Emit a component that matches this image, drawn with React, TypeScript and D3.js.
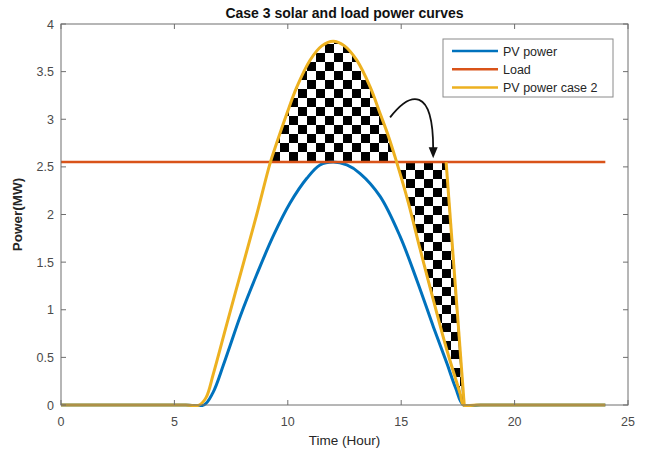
import React from 'react';
import * as d3 from 'd3';

// ---- data ----
const pvTime = [0, 5.5, 6.3, 6.7, 7.16, 7.45, 7.9, 8.63, 9.37, 10.1, 10.84, 11.42, 12.0, 12.6, 13.19, 14.07, 14.95, 15.69, 16.42, 17.01, 17.4, 17.75, 18.5, 24];
const pvPower = [0, 0, 0, 0.13, 0.42, 0.62, 0.93, 1.37, 1.78, 2.12, 2.38, 2.52, 2.55, 2.52, 2.43, 2.19, 1.77, 1.31, 0.82, 0.44, 0.18, 0, 0, 0];

const case2Time = [0, 5.5, 6.1, 6.4, 6.72, 7.31, 8.0, 8.63, 9.22, 9.51, 9.96, 10.4, 10.98, 11.5, 12.0, 12.5, 13.04, 13.63, 14.07, 14.44, 14.8, 15.32, 15.84, 16.42, 17.01, 17.6, 17.75, 18.3, 24];
const case2Power = [0, 0, 0, 0.08, 0.33, 0.85, 1.45, 2.0, 2.54, 2.75, 3.06, 3.34, 3.62, 3.77, 3.82, 3.77, 3.62, 3.34, 3.06, 2.82, 2.55, 2.12, 1.63, 1.10, 0.58, 0.12, 0, 0, 0];

const loadTime = [0, 24];
const loadPower = [2.55, 2.55];

// shifted-energy block (right edge of the lower hatched region)
const shiftEdgeTime = [16.98, 17.78];
const shiftEdgePower = [2.55, 0];

// curved annotation arrow anchor points (data space)
const arrowTime = [14.51, 15.39, 16.41, 16.41];
const arrowPower = [3.02, 3.29, 3.35, 2.69];
const arrowTip = { t: 16.41, v: 2.59 };

const xTicks = [0, 5, 10, 15, 20, 25];
const yTicks = [0, 0.5, 1, 1.5, 2, 2.5, 3, 3.5, 4];
const yTickLabels = ['0', '0.5', '1', '1.5', '2', '2.5', '3', '3.5', '4'];
const seriesNames = ['PV power', 'Load', 'PV power case 2'];
const seriesColors = ['#0072BD', '#D95319', '#EDB120'];

const W = 650;
const H = 453;
const L = 61, R = 628, T = 24, B = 405;
const FONT = 'Arial, "Liberation Sans", Helvetica, sans-serif';

export default function App() {
  const x = d3.scaleLinear().domain([0, 25]).range([L, R]);
  const y = d3.scaleLinear().domain([0, 4]).range([B, T]);

  const pv = pvTime.map((t, i) => ({ t, v: pvPower[i] }));
  const c2 = case2Time.map((t, i) => ({ t, v: case2Power[i] }));
  const load = loadTime.map((t, i) => ({ t, v: loadPower[i] }));
  const edge = shiftEdgeTime.map((t, i) => ({ t, v: shiftEdgePower[i] }));

  const curve = d3.curveCatmullRom.alpha(0.5);
  const line = d3.line<{ t: number; v: number }>()
    .x(d => x(d.t)).y(d => y(Math.max(0, d.v))).curve(curve);
  const straight = d3.line<{ t: number; v: number }>()
    .x(d => x(d.t)).y(d => y(d.v));

  const loadLevel = loadPower[0];
  const upperArea = d3.area<{ t: number; v: number }>()
    .x(d => x(d.t)).y0(y(loadLevel)).y1(d => y(d.v)).curve(curve)(c2) || '';

  const tri = c2.filter(d => d.t >= 14.8 && d.t <= 17.75);
  const triPath = (line(tri) || '') + `L${x(shiftEdgeTime[0])},${y(shiftEdgePower[0])}Z`;

  const ap = arrowTime.map((t, i) => [x(t), y(arrowPower[i])]);
  const arrowD = `M${ap[0][0]},${ap[0][1]} C${ap[1][0]},${ap[1][1]} ${ap[2][0]},${ap[2][1]} ${ap[3][0]},${ap[3][1]}`;
  const tipX = x(arrowTip.t), tipY = y(arrowTip.v);

  const axisColor = '#6e6e6e';
  const tickText = '#4a4a4a';

  return (
    <svg width={W} height={H} style={{ position: 'absolute', left: 0, top: 0, background: '#fff' }}>
      <defs>
        <pattern id="checker" patternUnits="userSpaceOnUse" width={18} height={18} x={325} y={44}>
          <rect width={18} height={18} fill="#fff" />
          <rect x={0} y={0} width={9} height={9} fill="#000" />
          <rect x={9} y={9} width={9} height={9} fill="#000" />
        </pattern>
        <clipPath id="aboveLoad">
          <rect x={L} y={T} width={R - L} height={y(loadLevel) - T} />
        </clipPath>
        <clipPath id="plotClip">
          <rect x={L} y={T} width={R - L} height={B - T + 2} />
        </clipPath>
      </defs>
      <rect x={0} y={0} width={W} height={H} fill="#fff" />

      {/* hatched regions */}
      <path d={upperArea} fill="url(#checker)" clipPath="url(#aboveLoad)" />
      <path d={triPath} fill="url(#checker)" stroke="#000" strokeWidth={1.5} />

      {/* series lines */}
      <g clipPath="url(#plotClip)">
        <path d={line(pv) || ''} fill="none" stroke={seriesColors[0]} strokeWidth={3} />
        <path d={straight(load) || ''} fill="none" stroke={seriesColors[1]} strokeWidth={2.5} />
        <path d={line(c2) || ''} fill="none" stroke={seriesColors[2]} strokeWidth={3} />
        <path d={straight(edge) || ''} fill="none" stroke={seriesColors[2]} strokeWidth={3} />
      </g>

      {/* arrow */}
      <path d={arrowD} fill="none" stroke="#111" strokeWidth={1.8} />
      <path d={`M${tipX},${tipY} L${tipX - 4.5},${tipY - 11} L${tipX + 4.5},${tipY - 11} Z`} fill="#111" />

      {/* axes box */}
      <rect x={L} y={T} width={R - L} height={B - T} fill="none" stroke={axisColor} strokeWidth={1} />
      {xTicks.map(t => (
        <g key={'x' + t}>
          <line x1={x(t)} x2={x(t)} y1={B} y2={B - 5} stroke={axisColor} />
          <line x1={x(t)} x2={x(t)} y1={T} y2={T + 5} stroke={axisColor} />
          <text x={x(t)} y={B + 21} textAnchor="middle" fontFamily={FONT} fontSize={12.5} fill={tickText}>{t}</text>
        </g>
      ))}
      {yTicks.map((v, i) => (
        <g key={'y' + v}>
          <line x1={L} x2={L + 5} y1={y(v)} y2={y(v)} stroke={axisColor} />
          <line x1={R} x2={R - 5} y1={y(v)} y2={y(v)} stroke={axisColor} />
          <text x={L - 7} y={y(v) + 4.5} textAnchor="end" fontFamily={FONT} fontSize={12.5} fill={tickText}>{yTickLabels[i]}</text>
        </g>
      ))}

      {/* titles */}
      <text x={(L + R) / 2} y={18} textAnchor="middle" fontFamily={FONT} fontSize={14} fontWeight="bold" fill="#111">Case 3 solar and load power curves</text>
      <text x={(L + R) / 2} y={445} textAnchor="middle" fontFamily={FONT} fontSize={13.5} fill="#262626">Time (Hour)</text>
      <text transform={`translate(22,${(T + B) / 2}) rotate(-90)`} textAnchor="middle" fontFamily={FONT} fontSize={13.5} fontWeight="bold" fill="#262626">Power(MW)</text>

      {/* legend */}
      <rect x={443} y={39} width={170} height={58} fill="#fff" stroke="#8a8a8a" strokeWidth={1} />
      {seriesNames.map((n, i) => (
        <g key={n}>
          <line x1={452} x2={498} y1={51 + i * 18.3} y2={51 + i * 18.3} stroke={seriesColors[i]} strokeWidth={2.5} />
          <text x={503} y={51 + i * 18.3 + 4.5} fontFamily={FONT} fontSize={12.5} fill="#262626">{n}</text>
        </g>
      ))}
    </svg>
  );
}
